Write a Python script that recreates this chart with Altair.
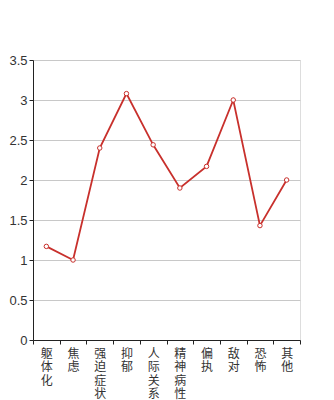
import altair as alt
import pandas as pd

categories = ["躯体化", "焦虑", "强迫症状", "抑郁", "人际关系敏感", "精神病性", "偏执", "敌对", "恐怖", "其他"]
values = [1.17, 1.0, 2.4, 3.08, 2.44, 1.9, 2.17, 3.0, 1.43, 2.0]
y_ticks = [0, 0.5, 1, 1.5, 2, 2.5, 3, 3.5]

df = pd.DataFrame({"cat": categories, "val": values, "order": list(range(len(categories)))})

font = "Liberation Sans"
red = "#c8302c"

x = alt.X("cat:N", sort=categories, title=None,
          scale=alt.Scale(paddingInner=0, paddingOuter=0),
          axis=alt.Axis(labelAngle=0, labelExpr="split(datum.label, '')",
                        labelLineHeight=13.5, labelBaseline="top", labelAlign="center",
                        tickBand="extent", tickSize=4, labelPadding=4,
                        domainColor="#222", tickColor="#222", labelColor="#333",
                        labelFont="Noto Sans CJK SC", labelFontSize=12, grid=False,
                        labelOverlap=False))
y = alt.Y("val:Q", title=None,
          scale=alt.Scale(domain=[0, 3.5], nice=False),
          axis=alt.Axis(values=y_ticks, format="~g", tickSize=4, labelPadding=2,
                        domainColor="#222", tickColor="#222", labelColor="#333",
                        labelFont=font, labelFontSize=13, gridColor="#c8c8c8",
                        labelFlush=False))

base = alt.Chart(df)
line = base.mark_line(color=red, strokeWidth=1.8).encode(x=x, y=y, order="order:Q")
pts = base.mark_point(shape="circle", filled=True, fill="white", stroke=red,
                      strokeWidth=1, size=20, opacity=1).encode(x=x, y=y)

chart = (line + pts).properties(
    width=267, height=280,
    autosize=alt.AutoSizeParams(type="none"),
    padding={"left": 33, "top": 60, "right": 34, "bottom": 60},
).configure_view(stroke=None).configure(background="white")

chart.save("out.html", embed_options={"renderer": "svg", "actions": False})
